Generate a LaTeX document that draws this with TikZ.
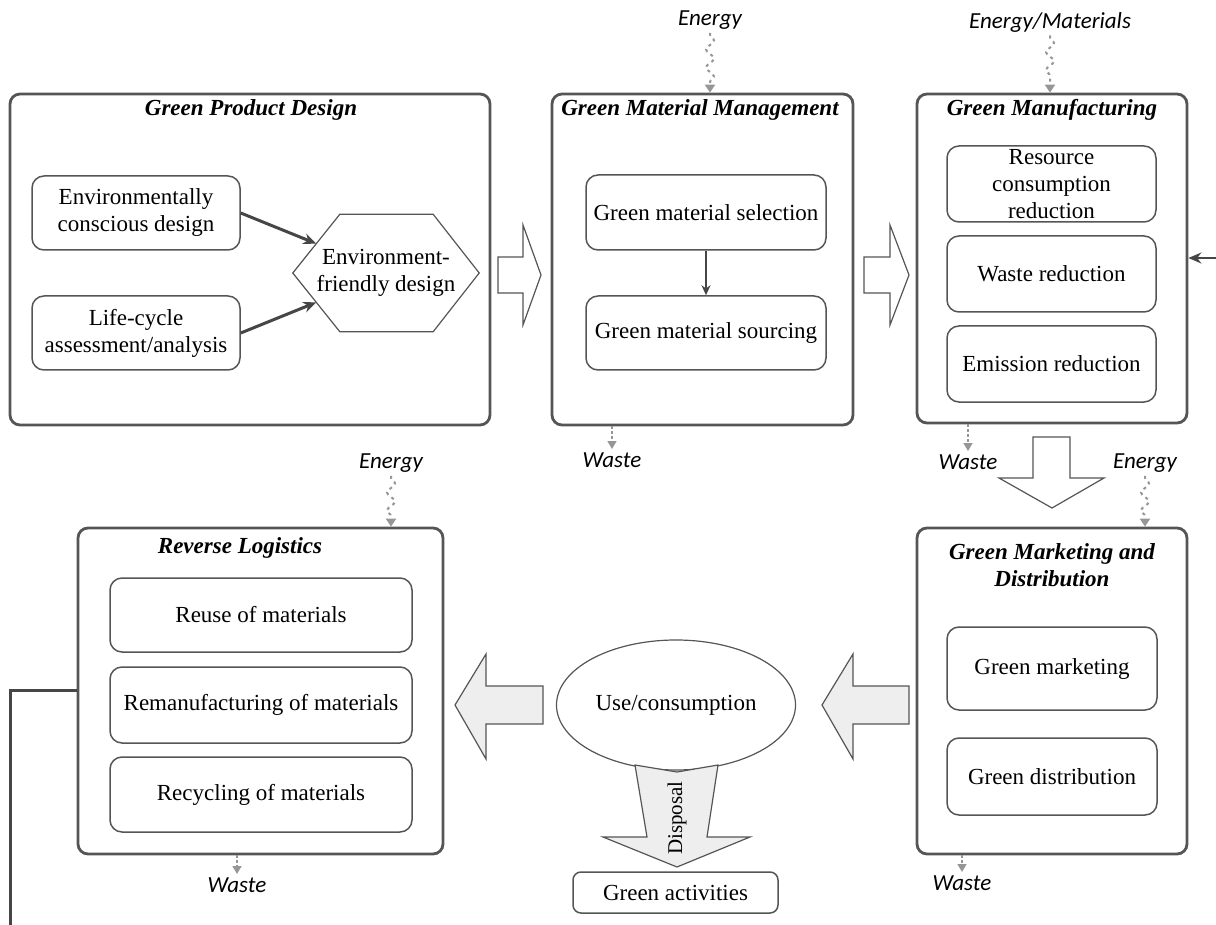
\documentclass[tikz,border=0pt]{standalone}
\usepackage{fontspec}
\setmainfont{Liberation Serif}
\newfontfamily\labelfont{Carlito}
\usetikzlibrary{arrows.meta, calc, shapes.geometric, decorations.pathmorphing}

\begin{document}
\begin{tikzpicture}[
        x = 1pt,
        y = -1pt,
        font = \fontsize{23}{27}\selectfont
    ]

        \definecolor{boxline}{RGB}{85,85,85}
        \definecolor{flowgray}{RGB}{150,150,150}
        \definecolor{arrowfill}{RGB}{238,238,238}
        \definecolor{linkline}{RGB}{70,70,70}

        \tikzset{%
            stagebox/.style = {%
                rectangle,
                rounded corners = 10pt,
                draw            = boxline,
                line width      = 2.8pt
            },
            stagetitle/.style = {%
                font  = \fontsize{23}{27}\selectfont\bfseries\itshape,
                align = center
            },
            taskbox/.style = {%
                rectangle,
                rounded corners = 12pt,
                draw            = boxline,
                line width      = 1.5pt,
                align           = center
            },
            flowlabel/.style = {%
                font = \fontsize{23}{27}\selectfont\labelfont\itshape,
                text = black
            },
            inflow/.style = {%
                draw            = flowgray,
                line width      = 2pt,
                dash pattern    = on 3pt off 4pt,
                decorate,
                decoration      = {snake, amplitude = 4pt, segment length = 18pt, pre length = 2pt, post length = 9pt},
                -{Triangle[length = 8pt, width = 10pt]}
            },
            outflow/.style = {%
                draw         = flowgray,
                line width   = 1.5pt,
                dash pattern = on 3pt off 2pt,
                -{Triangle[length = 8pt, width = 9pt]}
            },
            link/.style = {%
                draw       = linkline,
                line width = 3pt,
                -{Stealth[length = 13pt, width = 11pt]}
            },
            hollowblock/.style = {%
                draw       = boxline,
                line width = 1.2pt,
                fill       = white
            },
            grayblock/.style = {%
                draw       = boxline,
                line width = 1.2pt,
                fill       = arrowfill
            }
        }

        \useasboundingbox (0, 0) rectangle (1216, 925);

        % Stage boxes
        \node[stagebox, minimum width = 480pt, minimum height = 331pt] (gpd) at (250, 259.5) {};
        \node[stagebox, minimum width = 301pt, minimum height = 331pt] (gmm) at (702.5, 259.5) {};
        \node[stagebox, minimum width = 270pt, minimum height = 329pt] (gmf) at (1052, 258.5) {};
        \node[stagebox, minimum width = 270pt, minimum height = 326pt] (gmd) at (1052, 691) {};
        \node[stagebox, minimum width = 365pt, minimum height = 326pt] (rl) at (260.5, 691) {};

        \node[stagetitle] (gpdtitle) at (251, 110) {Green Product Design};
        \node[stagetitle] (gmmtitle) at (700, 110) {Green Material Management};
        \node[stagetitle] (gmftitle) at (1052, 110) {Green Manufacturing};
        \node[stagetitle] (gmdtitle) at (1052, 565) {Green Marketing and\\Distribution};
        \node[stagetitle] (rltitle) at (240, 548) {Reverse Logistics};

        % Green product design
        \node[taskbox, minimum width = 208pt, minimum height = 74pt] (ecd) at (136, 213) {Environmentally\\conscious design};
        \node[taskbox, minimum width = 208pt, minimum height = 74pt] (lca) at (136, 333) {Life-cycle\\assessment/analysis};
        \node[align = center, inner sep = 0pt, minimum width = 186pt, minimum height = 117pt] (efd) at (386, 273) {Environment-\\friendly design};

        \coordinate (efdnw) at ($(efd.north west) + (47, 0)$);
        \coordinate (efdne) at ($(efd.north east) + (-46, 0)$);
        \coordinate (efdse) at ($(efd.south east) + (-46, 0)$);
        \coordinate (efdsw) at ($(efd.south west) + (47, 0)$);
        \draw[boxline, line width = 1.2pt] (efd.west) -- (efdnw) -- (efdne) -- (efd.east) -- (efdse) -- (efdsw) -- cycle;

        \draw[link] (ecd.east) -- ($(efd.west)!0.5!(efdnw)$);
        \draw[link] (lca.east) -- ($(efd.west)!0.5!(efdsw)$);

        % Green material management
        \node[taskbox, minimum width = 240pt, minimum height = 75pt] (gms) at (706, 212.5) {Green material selection};
        \node[taskbox, minimum width = 240pt, minimum height = 74pt] (gmso) at (706, 333) {Green material sourcing};
        \draw[link, line width = 1.8pt, -{Stealth[length = 10pt, width = 9pt]}] (gms) -- (gmso);

        % Green manufacturing
        \node[taskbox, minimum width = 209pt, minimum height = 76pt] (rcr) at (1051.5, 184) {Resource\\consumption\\reduction};
        \node[taskbox, minimum width = 209pt, minimum height = 76pt] (wr) at (1051.5, 274) {Waste reduction};
        \node[taskbox, minimum width = 209pt, minimum height = 76pt] (er) at (1051.5, 364) {Emission reduction};

        % Green marketing and distribution
        \node[taskbox, minimum width = 210pt, minimum height = 83pt] (gmk) at (1052, 668.5) {Green marketing};
        \node[taskbox, minimum width = 210pt, minimum height = 77pt] (gdi) at (1052, 776.5) {Green distribution};

        % Reverse logistics
        \node[taskbox, minimum width = 302pt, minimum height = 74pt] (reuse) at (261, 615) {Reuse of materials};
        \node[taskbox, minimum width = 302pt, minimum height = 76pt] (reman) at (261, 705) {Remanufacturing of materials};
        \node[taskbox, minimum width = 302pt, minimum height = 75pt] (recyc) at (261, 794.5) {Recycling of materials};

        % Use and disposal
        \node[ellipse, draw = boxline, line width = 1.2pt, minimum width = 239pt, minimum height = 130pt] (use) at (676, 705) {Use/consumption};
        \node[taskbox, rounded corners = 8pt, minimum width = 205pt, minimum height = 41pt] (gact) at (675.5, 892.5) {Green activities};

        % Block arrows
        \draw[hollowblock] (498, 257) -- (523, 257) -- (523, 225) -- (541, 275) -- (523, 325) -- (523, 293) -- (498, 293) -- cycle;
        \draw[hollowblock] (864, 257) -- (890, 257) -- (890, 225) -- (909, 275) -- (890, 325) -- (890, 293) -- (864, 293) -- cycle;
        \draw[hollowblock] (1033, 437) -- (1070, 437) -- (1070, 478) -- (1104, 478) -- (1052, 508) -- (999, 478) -- (1033, 478) -- cycle;
        \draw[grayblock] (543, 686) -- (486, 686) -- (486, 654) -- (455, 705) -- (486, 759) -- (486, 724) -- (543, 724) -- cycle;
        \draw[grayblock] (909, 686) -- (853, 686) -- (853, 654) -- (822, 705) -- (853, 759) -- (853, 724) -- (909, 724) -- cycle;
        \draw[grayblock] (635, 765) -- (677, 772) -- (718, 765) -- (707, 837) -- (750, 837) -- (677, 867) -- (603, 837) -- (647, 837) -- cycle;
        \node[rotate = 90, font = \fontsize{21}{25}\selectfont] (disp) at (677, 818) {Disposal};

        % Energy in, waste out
        \node[flowlabel] (enA) at (710, 20) {Energy};
        \node[flowlabel] (enB) at (1050, 22) {Energy/Materials};
        \node[flowlabel] (enC) at (1145, 463) {Energy};
        \node[flowlabel] (enD) at (391, 463) {Energy};

        \draw[inflow] (enA.south) -- (enA.south |- gmm.north);
        \draw[inflow] (enB.south) -- (enB.south |- gmf.north);
        \draw[inflow] (enC.south) -- (enC.south |- gmd.north);
        \draw[inflow] (enD.south) -- (enD.south |- rl.north);

        \node[flowlabel] (wA) at (612, 460) {Waste};
        \node[flowlabel] (wB) at (968, 462) {Waste};
        \node[flowlabel] (wC) at (962, 883) {Waste};
        \node[flowlabel] (wD) at (237, 885) {Waste};

        \draw[outflow] (wA.north |- gmm.south) -- (wA.north);
        \draw[outflow] (wB.north |- gmf.south) -- (wB.north);
        \draw[outflow] (wC.north |- gmd.south) -- (wC.north);
        \draw[outflow] (wD.north |- rl.south) -- (wD.north);

        % Feedback loop
        \coordinate (fbin) at (1216, 258);
        \coordinate (fbcorner) at (10, 690);
        \coordinate (fbout) at (10, 925);
        \draw[linkline, line width = 3pt] (rl.west |- fbcorner) -- (fbcorner) -- (fbout);
        \draw[link, line width = 2.5pt] (fbin) -- (fbin -| gmf.east);

    \end{tikzpicture}
\end{document}
